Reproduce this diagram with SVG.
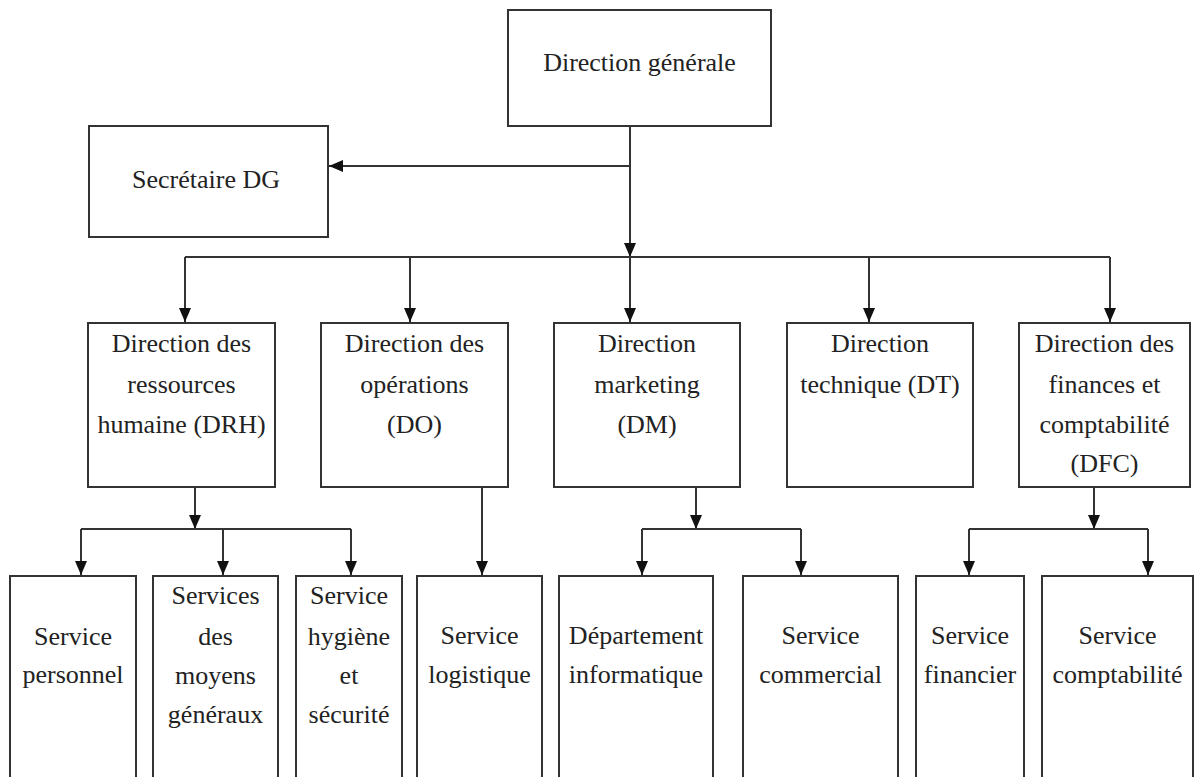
<svg xmlns="http://www.w3.org/2000/svg" width="1194" height="777" viewBox="0 0 1194 777">
<style>
.box{fill:#fff;stroke:#333;stroke-width:2}
.t{font-size:26px;fill:#222;text-anchor:middle}
.c{fill:none;stroke:#333;stroke-width:2}
</style>
<defs>
<marker id="ah" markerUnits="userSpaceOnUse" markerWidth="14" markerHeight="14" viewBox="0 0 14 14" refX="14" refY="7" orient="auto">
<path d="M0,1 L14,7 L0,13 Z" fill="#111"/>
</marker>
</defs>
<rect width="1194" height="777" fill="#fff"/>
<g id="connectors">
<path class="c" d="M630,126 V257" marker-end="url(#ah)"/>
<path class="c" d="M630,166 H329" marker-end="url(#ah)"/>
<path class="c" d="M185,257 H1110"/>
<path class="c" d="M185,257 V322" marker-end="url(#ah)"/>
<path class="c" d="M410,257 V322" marker-end="url(#ah)"/>
<path class="c" d="M630,257 V322" marker-end="url(#ah)"/>
<path class="c" d="M869,257 V322" marker-end="url(#ah)"/>
<path class="c" d="M1110,257 V322" marker-end="url(#ah)"/>
<path class="c" d="M195,487 V529" marker-end="url(#ah)"/>
<path class="c" d="M81,529 H351"/>
<path class="c" d="M81,529 V575" marker-end="url(#ah)"/>
<path class="c" d="M223,529 V575" marker-end="url(#ah)"/>
<path class="c" d="M351,529 V575" marker-end="url(#ah)"/>
<path class="c" d="M482,487 V575" marker-end="url(#ah)"/>
<path class="c" d="M696,487 V529" marker-end="url(#ah)"/>
<path class="c" d="M642,529 H801"/>
<path class="c" d="M642,529 V575" marker-end="url(#ah)"/>
<path class="c" d="M801,529 V575" marker-end="url(#ah)"/>
<path class="c" d="M1094,487 V529" marker-end="url(#ah)"/>
<path class="c" d="M969,529 H1148"/>
<path class="c" d="M969,529 V575" marker-end="url(#ah)"/>
<path class="c" d="M1148,529 V575" marker-end="url(#ah)"/>
</g>
<g font-family="'Liberation Serif', 'DejaVu Serif', serif">
<g id="dg">
<rect class="box" x="508" y="10" width="263" height="116"/>
<text class="t" x="639.5" y="71" font-size="27">Direction générale</text>
</g>
<g id="secretaire">
<rect class="box" x="89" y="126" width="239" height="111"/>
<text class="t" x="206" y="188">Secrétaire DG</text>
</g>
<g id="drh">
<rect class="box" x="88" y="323" width="187" height="164"/>
<text class="t" x="181.5" y="352">Direction des</text>
<text class="t" x="181.5" y="393">ressources</text>
<text class="t" x="181.5" y="433">humaine (DRH)</text>
</g>
<g id="do">
<rect class="box" x="321" y="323" width="187" height="164"/>
<text class="t" x="414.5" y="352">Direction des</text>
<text class="t" x="414.5" y="393">opérations</text>
<text class="t" x="414.5" y="433">(DO)</text>
</g>
<g id="dm">
<rect class="box" x="554" y="323" width="186" height="164"/>
<text class="t" x="647" y="352">Direction</text>
<text class="t" x="647" y="393">marketing</text>
<text class="t" x="647" y="433">(DM)</text>
</g>
<g id="dt">
<rect class="box" x="787" y="323" width="186" height="164"/>
<text class="t" x="880" y="352">Direction</text>
<text class="t" x="880" y="393">technique (DT)</text>
</g>
<g id="dfc">
<rect class="box" x="1019" y="323" width="171" height="164"/>
<text class="t" x="1104.5" y="352">Direction des</text>
<text class="t" x="1104.5" y="393">finances et</text>
<text class="t" x="1104.5" y="433">comptabilité</text>
<text class="t" x="1104.5" y="472">(DFC)</text>
</g>
<g id="personnel">
<rect class="box" x="10" y="576" width="126" height="220"/>
<text class="t" x="73" y="645">Service</text>
<text class="t" x="73" y="683">personnel</text>
</g>
<g id="moyens">
<rect class="box" x="153" y="576" width="125" height="220"/>
<text class="t" x="215.5" y="604">Services</text>
<text class="t" x="215.5" y="645">des</text>
<text class="t" x="215.5" y="684">moyens</text>
<text class="t" x="215.5" y="723">généraux</text>
</g>
<g id="hygiene">
<rect class="box" x="296" y="576" width="106" height="220"/>
<text class="t" x="349" y="604">Service</text>
<text class="t" x="349" y="645">hygiène</text>
<text class="t" x="349" y="684">et</text>
<text class="t" x="349" y="723">sécurité</text>
</g>
<g id="logistique">
<rect class="box" x="417" y="576" width="125" height="220"/>
<text class="t" x="479.5" y="644">Service</text>
<text class="t" x="479.5" y="683">logistique</text>
</g>
<g id="informatique">
<rect class="box" x="559" y="576" width="154" height="220"/>
<text class="t" x="636" y="644">Département</text>
<text class="t" x="636" y="683">informatique</text>
</g>
<g id="commercial">
<rect class="box" x="743" y="576" width="155" height="220"/>
<text class="t" x="820.5" y="644">Service</text>
<text class="t" x="820.5" y="683">commercial</text>
</g>
<g id="financier">
<rect class="box" x="916" y="576" width="108" height="220"/>
<text class="t" x="970" y="644">Service</text>
<text class="t" x="970" y="683">financier</text>
</g>
<g id="comptabilite">
<rect class="box" x="1042" y="576" width="151" height="220"/>
<text class="t" x="1117.5" y="644">Service</text>
<text class="t" x="1117.5" y="683">comptabilité</text>
</g>
</g>
</svg>
